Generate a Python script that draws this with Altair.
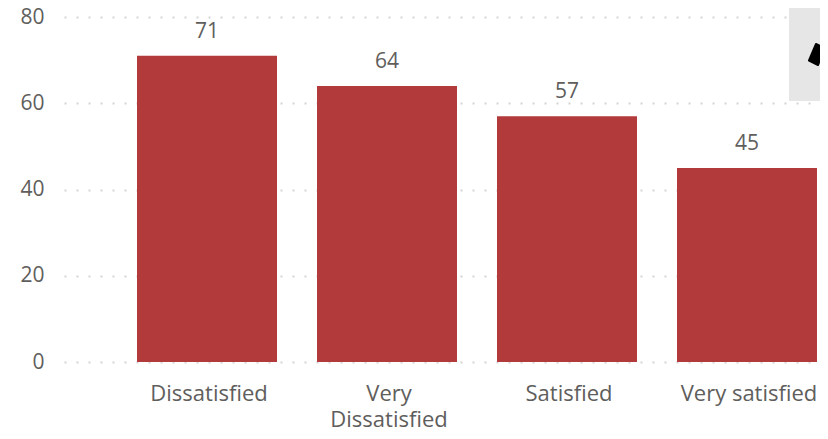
import altair as alt
import pandas as pd

categories = ["Dissatisfied", "Very Dissatisfied", "Satisfied", "Very satisfied"]
values = [71, 64, 57, 45]
y_ticks = [0, 20, 40, 60, 80]
label_expr = "datum.label == 'Very Dissatisfied' ? ['Very', 'Dissatisfied'] : datum.label"

FONT = "Open Sans"
TEXT = "#605e5c"
BAR = "#b33a3a"

df = pd.DataFrame({"category": categories, "value": values})

x = alt.X("category:N", sort=categories, title=None,
          scale=alt.Scale(domain=categories, range=[0, 826], paddingInner=0.2222, paddingOuter=0.4056),
          axis=alt.Axis(domain=False, ticks=False, labelAngle=0, labelFontSize=22, labelColor=TEXT,
                        labelFont=FONT, labelPadding=21, labelLimit=200, labelExpr=label_expr,
                        labelLineHeight=26, labelOffset=2))
y = alt.Y("value:Q", title=None,
          scale=alt.Scale(domain=[0, 80], nice=False),
          axis=alt.Axis(values=y_ticks, domain=False, ticks=False, labelFontSize=21, labelColor=TEXT,
                        labelFont=FONT, labelPadding=20, grid=True, gridColor="#d4d4d4",
                        gridWidth=2, gridDash=[2, 10]))

bars = alt.Chart(df).mark_bar(color=BAR).encode(x=x, y=y)
text = alt.Chart(df).mark_text(baseline="bottom", dy=-14, fontSize=21, font=FONT, color=TEXT).encode(
    x=alt.X("category:N", sort=categories), y="value:Q", text="value:Q")

panel = alt.Chart(df.head(1)).mark_rect(color="#e6e6e6").encode(
    x=alt.value(725), x2=alt.value(770), y=alt.value(-20), y2=alt.value(84))
icon = alt.Chart(df.head(1)).mark_point(
    shape="M0.1,-1.1 L1,-0.7 L0.3,1 L-0.6,0.55 Z M1.25,-0.35 L2.3,0 L1.7,1.8 L0.65,1.1 Z",
    filled=True, color="black", opacity=1, size=400, strokeWidth=2, strokeJoin="round",
    stroke="black").encode(x=alt.value(751), y=alt.value(38))

chart = (bars + text + panel + icon).properties(
    width=756, height=345,
    autosize=alt.AutoSizeParams(type="none"),
    padding={"left": 56, "top": 9, "right": 0, "bottom": 69},
).configure_view(stroke=None)

chart.save("out.html", embed_options={"renderer": "svg", "actions": False})
